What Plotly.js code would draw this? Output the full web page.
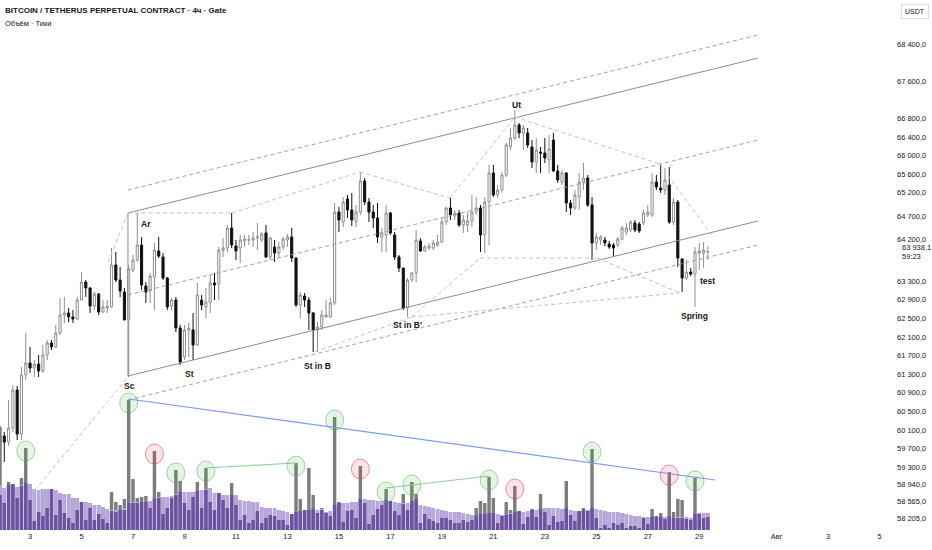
<!DOCTYPE html>
<html><head><meta charset="utf-8">
<script src="https://cdn.plot.ly/plotly-3.0.1.min.js"></script>
<style>html,body{margin:0;padding:0;background:#fff}#chart{width:932px;height:550px}</style>
</head><body><div id="chart"></div>
<script>
// ---- 4h candles, first candle 2024-07-01 20:00 (index -1) ----
const open = [
59779,59972,59843,60144,60961,60015,61284,61542,61434,61520,
61370,61714,61972,61886,62187,62574,62617,62531,62488,62896,
63283,63154,62767,63025,62638,62724,62746,63649,63326,63068,
62466,63541,63756,64079,63197,63090,63391,63950,63821,63369,
62767,62896,62294,61671,62251,62251,61929,62896,62746,62853,
63262,63240,63971,64014,64444,64057,64014,64165,64186,64186,
64229,64186,64337,63821,64036,63907,64036,64186,64251,63799,
62789,62982,62896,62617,62251,62316,62531,62531,62832,64788,
64573,65068,64831,64573,64788,65455,65003,64788,64659,64251,
64294,64767,64294,63821,63584,62724,63326,63477,64165,63950,
64014,64014,64079,64143,64573,64874,64702,64767,64509,64509,
64595,64788,64874,64294,65003,65627,65154,65261,65584,66186,
66379,66659,66487,66487,66186,65863,66078,66057,65906,66336,
65670,65433,65627,64982,64874,65111,65433,65519,64939,64122,
64186,64186,64100,64079,64079,64208,64358,64401,64552,64530,
64552,64724,64724,65433,65304,65261,65369,64573,65003,63778,
63369,63498,63455,63907,63907,63928];
const high = [
60209,60058,60746,61069,61047,61456,62187,61886,61606,61714,
61929,62036,62036,62359,62939,62961,62724,62681,62961,63498,
63326,63176,63068,63047,62896,62896,64014,63928,63606,63154,
63649,63864,64767,64251,63283,63477,64122,64251,63907,63391,
62939,62961,62359,62359,62402,62617,63262,63004,63154,63434,
63477,64036,64229,64509,64767,64186,64294,64294,64294,64358,
64552,64358,64509,64251,64186,64143,64251,64315,64444,63810,
63068,63047,62961,62638,62423,62681,62896,62939,64982,64896,
65111,65154,65197,64939,65648,65519,65089,64939,64982,64444,
64939,64788,64358,63864,63590,63369,63498,64401,64229,64079,
64122,64186,64294,64681,64896,65089,64831,64831,64724,64788,
65154,65111,64939,65111,65799,65799,65369,65648,66272,66594,
66981,66702,66659,66594,66336,66379,66186,66379,66444,66487,
65799,65691,65648,65046,65261,65627,65842,65584,65111,64337,
64294,64251,64165,64122,64251,64487,64552,64616,64616,64573,
64831,64939,65627,65584,65799,65734,65756,65089,65046,63799,
63756,63584,64036,64122,64143,64057];
const low = [
59284,59413,59757,60058,59886,59886,61176,61327,61241,61241,
61327,61606,61821,61864,62144,62402,62423,62402,62466,62896,
62961,62617,62681,62574,62617,62617,62724,63283,62961,62466,
61241,63498,63713,63111,62832,62832,62681,63799,63326,62681,
62681,62208,61499,61606,61671,61606,61907,62681,62509,62617,
62896,62896,63821,63928,64014,63756,63692,64036,64079,64036,
63971,64143,63799,63756,63713,63799,63971,64036,63713,62746,
62509,62746,62251,61778,61778,62251,62509,62509,62789,64358,
64466,64659,64487,64466,64724,64939,64573,64444,64122,63928,
63928,64294,63756,63498,62681,62531,63283,63283,63928,63928,
63971,63971,64036,64122,64509,64616,64616,64466,64337,64358,
64466,64724,63928,63907,64079,65111,65089,65197,65541,66121,
66336,66379,66121,66164,65734,65627,65627,65842,65627,65648,
65412,65369,64788,64724,64831,64831,65261,64896,63756,63971,
64079,64057,63993,63821,64036,64186,64294,64358,64358,64337,
64509,64681,64681,65261,65197,65154,64530,64509,63606,63068,
63326,63412,62746,63541,63584,63756];
const close = [
59972,59843,60144,60961,60015,61284,61542,61434,61520,61370,
61714,61972,61886,62187,62574,62617,62531,62488,62896,63283,
63154,62767,63025,62638,62746,62767,63649,63326,63090,62466,
63563,63756,64079,63219,63068,63412,63971,63842,63369,62746,
62896,62294,61563,62251,62294,61929,63004,62789,62853,63262,
63219,63971,64014,64444,64079,63950,64186,64208,64190,64229,
64251,64315,63821,64229,63907,64036,64208,64251,63799,62789,
63004,62896,62617,62251,62316,62574,62574,62832,64788,64616,
65003,64831,64616,64788,65455,65003,64788,64659,64251,64337,
64767,64337,63821,63584,62724,63326,63477,64186,63950,64036,
64057,64122,64143,64573,64874,64724,64767,64509,64616,64595,
64788,64874,64294,65003,65627,65154,65261,65584,66229,66379,
66659,66487,66594,66229,65863,66121,66057,65949,66143,65670,
65476,65627,64982,64874,65154,65433,65519,64939,64122,64251,
64251,64122,64036,64014,64208,64444,64444,64573,64401,64380,
64767,64788,65433,65326,65261,65476,64573,65003,63799,63369,
63498,63455,63928,63950,63971,63938.1];
// volume pane (relative units): volume, its moving average, tick count
const volume = [
103,42,48,45,43,52,82,46,41,40,
41,41,41,40,37,36,36,32,32,28,
28,27,25,25,23,21,38,28,25,31,
130,51,32,33,34,29,79,38,33,33,
34,60,49,38,38,38,48,40,62,42,
37,37,35,35,47,35,30,29,29,28,
28,23,22,22,22,20,19,18,16,67,
31,20,62,35,20,22,18,19,113,28,
27,27,28,28,64,31,30,30,29,29,
41,29,28,27,36,27,48,36,25,24,
23,22,21,20,19,18,18,18,17,16,
15,22,29,27,53,32,16,15,28,20,
44,19,18,19,21,20,36,22,22,22,
22,21,49,20,19,19,22,20,81,21,
20,19,18,18,18,17,16,15,14,14,
13,13,21,14,17,13,58,18,31,30,
13,12,52,17,17,17];
const volumeMA = [
45,42,45,45,43,45,47,46,41,40,
41,41,41,40,37,36,36,32,32,28,
28,27,25,25,23,21,20,20,20,22,
27,28,28,28,28,29,31,33,33,33,
34,36,38,38,38,38,39,40,41,42,
37,37,35,35,35,35,30,29,29,28,
28,23,22,22,22,20,19,18,16,18,
19,20,20,21,20,21,18,19,25,27,
27,27,28,28,31,31,30,30,29,29,
30,29,28,27,27,27,29,31,25,24,
23,22,21,20,19,18,18,18,17,16,
15,14,16,16,17,17,16,15,15,17,
18,19,18,19,20,20,21,22,22,22,
22,21,22,20,19,19,20,20,22,21,
20,19,18,18,18,17,16,15,14,14,
13,13,13,13,13,13,14,12,13,13,
13,12,16,17,17,17];
const tickCount = [
35,27,45,46,32,44,47,30,9,18,
14,22,41,15,30,17,12,7,20,28,
10,22,10,16,11,7,19,18,20,20,
27,27,27,28,28,22,31,32,16,22,
32,35,38,27,20,33,39,22,40,28,
20,37,30,22,35,25,10,15,7,10,
19,7,12,15,14,10,10,5,16,18,
19,20,20,21,17,20,17,14,25,27,
8,19,20,12,31,27,6,15,21,25,
30,29,19,15,26,20,29,31,7,16,
11,9,7,12,12,10,7,7,10,8,
10,14,16,16,17,17,7,14,15,16,
18,19,6,13,20,13,21,18,5,14,
8,9,22,15,9,19,20,19,22,12,
2,5,2,7,5,7,2,4,4,2,
12,6,13,13,13,11,14,12,12,12,
11,10,16,16,12,13];
// axis ticks
const priceTicks = [68400,67600,66800,66400,66000,65600,65200,64700,64200,63300,62900,62500,62100,61700,61300,60900,60500,60100,59700,59300,58940,58565,58205];
const priceTickText = ['68 400,0','67 600,0','66 800,0','66 400,0','66 000,0','65 600,0','65 200,0','64 700,0','64 200,0','63 300,0','62 900,0','62 500,0','62 100,0','61 700,0','61 300,0','60 900,0','60 500,0','60 100,0','59 700,0','59 300,0','58 940,0','58 565,0','58 205,0'];
const dateTicks = ['2024-07-03','2024-07-05','2024-07-07','2024-07-09','2024-07-11','2024-07-13','2024-07-15','2024-07-17','2024-07-19','2024-07-21','2024-07-23','2024-07-25','2024-07-27','2024-07-29','2024-08-01','2024-08-03','2024-08-05'];
const dateTickText = ['3','5','7','9','11','13','15','17','19','21','23','25','27','29','Авг','3','5'];
// analyst drawings: [candle index, price] pairs
const channelFrom = 28.83, channelTo = 175.7;
const channelLevels = [[65261,68594,'dash'],[64767,68099,'solid'],[63004,66336,'dash'],[61262,64595,'solid'],[60746,64079,'dash']];
const structureLines = [
 [7.16,58811,28.83,61241],[24.2,63713,28.83,64767],[28.83,64767,53.1,64767],[53.1,64767,82.9,65648],
 [82.9,65648,103.9,65089],[103.9,65089,119.0,66831],[119.0,66831,152.8,65820],[152.8,65820,165.0,64272],
 [95.0,62531,110.9,63799],[110.9,63799,138.2,63799],[138.2,63799,157.5,63047],[95.0,62531,157.5,63047],
 [72.4,61778,95.0,62531]];
const volumeLines = [[29,131,165.7,50,'#7d9bf3'],[47,62,68,67,'#90d39a'],[89,42,113,54,'#90d39a']];
const greenMarks = [5,29,40,47,68,77,89,95,113,137,161];
const redMarks = [35,83,119,155];
const waveLabels = [['Ar',33.0,64530],['Sc',29.1,61047],['St',43.1,61305],['St in B',73.1,61477],["St in B'",94.1,62358],['Ut',119.3,67088],['Spring',160.8,62552],['test',163.8,63304]];

const T0 = Date.UTC(2024,6,1,20,0,0), STEP = 4*3600*1000;
function at(i){ return new Date(T0 + (i+1)*STEP).toISOString().slice(0,23).replace('T',' '); }
const times = open.map((_,k)=>at(k-1));
const FONT = '"Liberation Sans Narrow","Arial Narrow","Liberation Sans",Arial,sans-serif';
const TXT = '#131722';

const bar = (y,color)=>({type:'bar',x:times,y:y,yaxis:'y2',width:STEP*0.8,hoverinfo:'skip',showlegend:false,marker:{color:color,line:{width:0}}});
const data = [
 bar(volume,'#7d7d7d'), bar(volumeMA,'#b9a7e2'), bar(tickCount,'#6c52a0'),
 {type:'candlestick',x:times,open:open,high:high,low:low,close:close,hoverinfo:'skip',showlegend:false,
  increasing:{line:{color:'#8e8e8e',width:1},fillcolor:'#ffffff'},
  decreasing:{line:{color:'#111111',width:1},fillcolor:'#111111'}}
];

const shapes = [];
channelLevels.forEach(([p0,p1,d])=>{
 shapes.push({type:'line',xref:'x',yref:'y',x0:at(channelFrom),x1:at(channelTo),y0:p0,y1:p1,
  line:{color:d==='solid'?'#8c8c8c':'#a3a3a3',width:1,dash:d==='solid'?'solid':'4px,3px'}});
});
shapes.push({type:'line',xref:'x',yref:'y',x0:at(channelFrom),x1:at(channelFrom),y0:channelLevels[1][0],y1:channelLevels[3][0],line:{color:'#8c8c8c',width:1}});
structureLines.forEach(([i0,p0,i1,p1])=>{
 shapes.push({type:'line',xref:'x',yref:'y',x0:at(i0),x1:at(i1),y0:p0,y1:p1,line:{color:'#c2c2c2',width:1,dash:'4px,3px'}});
});
volumeLines.forEach(([i0,v0,i1,v1,c])=>{
 shapes.push({type:'line',xref:'x',yref:'y2',x0:at(i0),x1:at(i1),y0:v0,y1:v1,line:{color:c,width:1.2}});
});
function mark(i,fill,edge){
 shapes.push({type:'circle',xref:'x',yref:'y2',xsizemode:'pixel',ysizemode:'pixel',xanchor:at(i),yanchor:volume[i+1],
  x0:-9,x1:9,y0:-13,y1:7,fillcolor:fill,line:{color:edge,width:1}});
}
greenMarks.forEach(i=>mark(i,'rgba(76,175,80,0.14)','rgba(76,175,80,0.5)'));
redMarks.forEach(i=>mark(i,'rgba(242,54,69,0.13)','rgba(220,40,110,0.5)'));

const annotations = [
 {xref:'paper',yref:'paper',x:0,y:1,xanchor:'left',yanchor:'top',xshift:3,yshift:-4,showarrow:false,
  text:'BITCOIN / TETHERUS PERPETUAL CONTRACT · 4ч · Gate',font:{family:FONT,size:8,color:TXT,weight:600}},
 {xref:'paper',yref:'paper',x:0,y:1,xanchor:'left',yanchor:'top',xshift:3,yshift:-17,showarrow:false,
  text:'Объём · Тики',font:{family:FONT,size:7.5,color:TXT}},
 {xref:'paper',yref:'paper',x:1,y:1,xanchor:'left',yanchor:'top',xshift:5,yshift:-4,showarrow:false,
  text:'USDT',font:{family:FONT,size:7,color:TXT},bordercolor:'#d9dbe0',borderwidth:1,borderpad:3},
 {xref:'paper',yref:'y',x:1,y:close[close.length-1],xanchor:'left',yanchor:'middle',xshift:4,yshift:4,showarrow:false,
  text:'63 938,1',font:{family:FONT,size:7.5,color:TXT}},
 {xref:'paper',yref:'y',x:1,y:close[close.length-1],xanchor:'left',yanchor:'middle',xshift:4,yshift:-5,showarrow:false,
  text:'59:23',font:{family:FONT,size:7.5,color:TXT}}
];
waveLabels.forEach(([t,i,p])=>annotations.push({xref:'x',yref:'y',x:at(i),y:p,showarrow:false,text:t,
 font:{family:FONT,size:8.5,color:TXT,weight:700}}));

const layout = {
 width:932,height:550,margin:{l:0,r:36,t:0,b:20},
 paper_bgcolor:'#ffffff',plot_bgcolor:'#ffffff',showlegend:false,barmode:'overlay',
 font:{family:FONT,size:7.5,color:TXT},
 xaxis:{type:'date',range:[at(-1),'2024-08-05 15:25'],tickmode:'array',tickvals:dateTicks,ticktext:dateTickText,
  showgrid:false,zeroline:false,showline:false,ticks:'',rangeslider:{visible:false},tickfont:{family:FONT,size:7.5,color:TXT}},
 yaxis:{side:'right',range:[57951,69346],tickmode:'array',tickvals:priceTicks,ticktext:priceTickText,
  showgrid:false,zeroline:false,showline:false,ticks:'',tickfont:{family:FONT,size:7.5,color:TXT}},
 yaxis2:{overlaying:'y',range:[0,530],visible:false,showgrid:false,zeroline:false},
 shapes:shapes,annotations:annotations
};
Plotly.newPlot('chart',data,layout,{staticPlot:true,displayModeBar:false});
</script></body></html>
